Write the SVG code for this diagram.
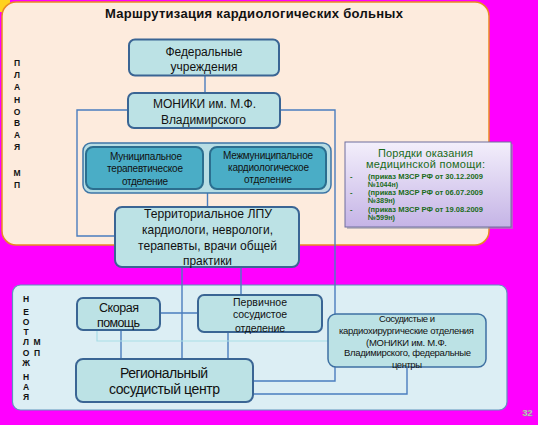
<svg xmlns="http://www.w3.org/2000/svg" width="538" height="425" viewBox="0 0 538 425">
<defs>
<linearGradient id="pg" x1="0" y1="0" x2="0" y2="1">
<stop offset="0" stop-color="#F3EFFB"/>
<stop offset="1" stop-color="#C5B4E6"/>
</linearGradient>
<style>
text{font-family:"Liberation Sans",Arial,sans-serif;fill:#111;}
.b{fill:#BCE2E5;stroke:#3A6594;stroke-width:2;}
.in{fill:#4AADC6;stroke:#2B6E8F;stroke-width:2;}
.c{fill:none;stroke:#4A7DBE;stroke-width:1.4;}
.v{font-size:8.5px;font-weight:bold;fill:#2F4A8A;text-anchor:middle;}
.g{fill:#1A6B1A;font-weight:bold;font-size:7.5px;}
.m{text-anchor:middle;}
</style>
</defs>
<rect width="538" height="425" fill="#FF00FF"/>
<rect x="0" y="0" width="10" height="12" fill="#FFD21F"/>
<g id="panel-planned">
<rect x="2" y="2" width="487" height="243" rx="14" fill="#FDEBDD" stroke="#E98A22" stroke-width="1.5"/>
<text x="254" y="18" class="m" font-size="13" font-weight="bold" textLength="298" lengthAdjust="spacing">Маршрутизация кардиологических больных</text>
<g class="v">
<text x="17" y="66">П</text><text x="17" y="78">Л</text><text x="17" y="90">А</text><text x="17" y="103">Н</text><text x="17" y="115">О</text><text x="17" y="126">В</text><text x="17" y="138">А</text><text x="17" y="150">Я</text><text x="17" y="176">М</text><text x="17" y="188">П</text>
</g>
</g>
<g id="panel-urgent">
<rect x="12.5" y="285" width="494.5" height="125" rx="8" fill="#DCEEF4" stroke="#5E94BE" stroke-width="1.2"/>
<g class="v">
<text x="26" y="302">Н</text><text x="26" y="315">Е</text><text x="26" y="325">О</text><text x="26" y="335">Т</text><text x="26" y="345">Л</text><text x="26" y="356">О</text><text x="26" y="366">Ж</text><text x="26" y="380">Н</text><text x="26" y="390">А</text><text x="26" y="400">Я</text>
<text x="37" y="345">М</text><text x="37" y="356">П</text>
</g>
</g>
<g id="connectors">
<path class="c" d="M205 75.5V93"/>
<path class="c" d="M128 110H77V236H115"/>
<path class="c" d="M280 110H335V381H253"/>
<path class="c" d="M207.5 193V207"/>
<path class="c" d="M182 267V359"/>
<path class="c" d="M241 267V295"/>
<path class="c" d="M121 330V359"/>
<path class="c" d="M228 332V359"/>
<path class="c" d="M407 367V394H220"/>
<path class="c" d="M160 313H198" stroke-width="2.2"/>
<path d="M97 330V341H328" fill="none" stroke="#A8DDE6" stroke-width="1.2"/>
</g>
<g id="federal">
<rect class="b" x="129" y="39.5" width="150" height="36" rx="6"/>
<text x="204" y="56" class="m" font-size="12" textLength="77" lengthAdjust="spacing">Федеральные</text>
<text x="204" y="71" class="m" font-size="12" textLength="67" lengthAdjust="spacing">учреждения</text>
</g>
<g id="moniki">
<rect class="b" x="128" y="93" width="152" height="35" rx="6"/>
<text x="204.5" y="108" class="m" font-size="12" textLength="103" lengthAdjust="spacing">МОНИКИ им. М.Ф.</text>
<text x="203.5" y="124" class="m" font-size="12" textLength="85" lengthAdjust="spacing">Владимирского</text>
</g>
<g id="municipal-group">
<rect x="83" y="143" width="248" height="50" rx="8" fill="#B7DDE4" stroke="#3E76A6" stroke-width="1.5"/>
</g>
<g id="municipal-ther">
<rect class="in" x="86" y="147" width="117" height="42" rx="7"/>
<text x="146" y="159.5" class="m" font-size="10" textLength="72" lengthAdjust="spacing">Муниципальное</text>
<text x="145" y="171.5" class="m" font-size="10" textLength="76" lengthAdjust="spacing">терапевтическое</text>
<text x="145" y="184.5" class="m" font-size="10" textLength="46" lengthAdjust="spacing">отделение</text>
</g>
<g id="intermunicipal-cardio">
<rect class="in" x="210" y="147" width="116" height="42" rx="7"/>
<text x="268" y="158.5" class="m" font-size="10" textLength="90" lengthAdjust="spacing">Межмуниципальное</text>
<text x="268.5" y="170.5" class="m" font-size="10" textLength="81" lengthAdjust="spacing">кардиологическое</text>
<text x="268" y="182.5" class="m" font-size="10" textLength="48" lengthAdjust="spacing">отделение</text>
</g>
<g id="territorial">
<rect class="b" x="115" y="207" width="184" height="60" rx="7"/>
<text x="208" y="217.5" class="m" font-size="13" textLength="128" lengthAdjust="spacingAndGlyphs">Территориальное ЛПУ</text>
<text x="207.5" y="233.5" class="m" font-size="13" textLength="131" lengthAdjust="spacingAndGlyphs">кардиологи, неврологи,</text>
<text x="207.5" y="249.5" class="m" font-size="13" textLength="139" lengthAdjust="spacingAndGlyphs">терапевты, врачи общей</text>
<text x="207.5" y="264.5" class="m" font-size="13" textLength="49" lengthAdjust="spacingAndGlyphs">практики</text>
</g>
<g id="orders">
<rect x="347" y="144" width="166" height="85" fill="#9A9AAA" opacity="0.6"/>
<rect x="345" y="142" width="166" height="85" fill="url(#pg)" stroke="#6E6E9E" stroke-width="1"/>
<text x="425.5" y="157" class="m" font-size="11" style="fill:#1A6B1A" textLength="95" lengthAdjust="spacing">Порядки оказания</text>
<text x="425.5" y="167.5" class="m" font-size="11" style="fill:#1A6B1A" textLength="119" lengthAdjust="spacing">медицинской помощи:</text>
<text x="350" y="178.5" class="g">-</text>
<text x="368" y="178.5" class="g" textLength="115" lengthAdjust="spacingAndGlyphs">(приказ МЗСР РФ от 30.12.2009</text>
<text x="368" y="186.5" class="g" textLength="30" lengthAdjust="spacingAndGlyphs">№1044н)</text>
<text x="350" y="195" class="g">-</text>
<text x="368" y="195" class="g" textLength="115" lengthAdjust="spacingAndGlyphs">(приказ МЗСР РФ от 06.07.2009</text>
<text x="368" y="203" class="g" textLength="27" lengthAdjust="spacingAndGlyphs">№389н)</text>
<text x="350" y="211.5" class="g">-</text>
<text x="368" y="211.5" class="g" textLength="115" lengthAdjust="spacingAndGlyphs">(приказ МЗСР РФ от 19.08.2009</text>
<text x="368" y="219.5" class="g" textLength="27" lengthAdjust="spacingAndGlyphs">№599н)</text>
</g>
<g id="ambulance">
<rect class="b" x="77" y="298" width="83" height="32" rx="6"/>
<text x="119" y="311.5" class="m" font-size="12.5" textLength="40" lengthAdjust="spacing">Скорая</text>
<text x="118.5" y="326.5" class="m" font-size="12.5" textLength="43" lengthAdjust="spacing">помощь</text>
</g>
<g id="primary-vascular">
<rect class="b" x="198" y="295" width="124" height="37" rx="6" stroke-width="2.5"/>
<text x="260" y="305.5" class="m" font-size="10.5" textLength="54" lengthAdjust="spacing">Первичное</text>
<text x="260" y="318" class="m" font-size="10.5" textLength="54" lengthAdjust="spacing">сосудистое</text>
<text x="260" y="331.5" class="m" font-size="10.5" textLength="50" lengthAdjust="spacing">отделение</text>
</g>
<g id="vascular-surgery">
<rect x="328" y="314" width="158" height="53" rx="8" fill="#BCE2E5" stroke="#3E70A2" stroke-width="1.5"/>
<text x="407" y="321.5" class="m" font-size="9.5" textLength="56" lengthAdjust="spacing">Сосудистые и</text>
<text x="406.5" y="334" class="m" font-size="9.5" textLength="135" lengthAdjust="spacing">кардиохирургические отделения</text>
<text x="406.5" y="345.5" class="m" font-size="9.5" textLength="81" lengthAdjust="spacing">(МОНИКИ им. М.Ф.</text>
<text x="407.5" y="356" class="m" font-size="9.5" textLength="127" lengthAdjust="spacing">Владимирского, федеральные</text>
<text x="407" y="367.5" class="m" font-size="9.5" textLength="30" lengthAdjust="spacing">центры</text>
</g>
<g id="regional">
<rect class="b" x="76" y="359" width="177" height="43" rx="7"/>
<text x="164" y="378" class="m" font-size="14" textLength="88" lengthAdjust="spacing">Региональный</text>
<text x="164.5" y="394" class="m" font-size="14" textLength="111" lengthAdjust="spacing">сосудистый центр</text>
</g>
<text x="527.5" y="416" class="m" font-size="9" font-weight="bold" style="fill:#E8E8E8" stroke="#8A8A8A" stroke-width="0.4">32</text>
</svg>
